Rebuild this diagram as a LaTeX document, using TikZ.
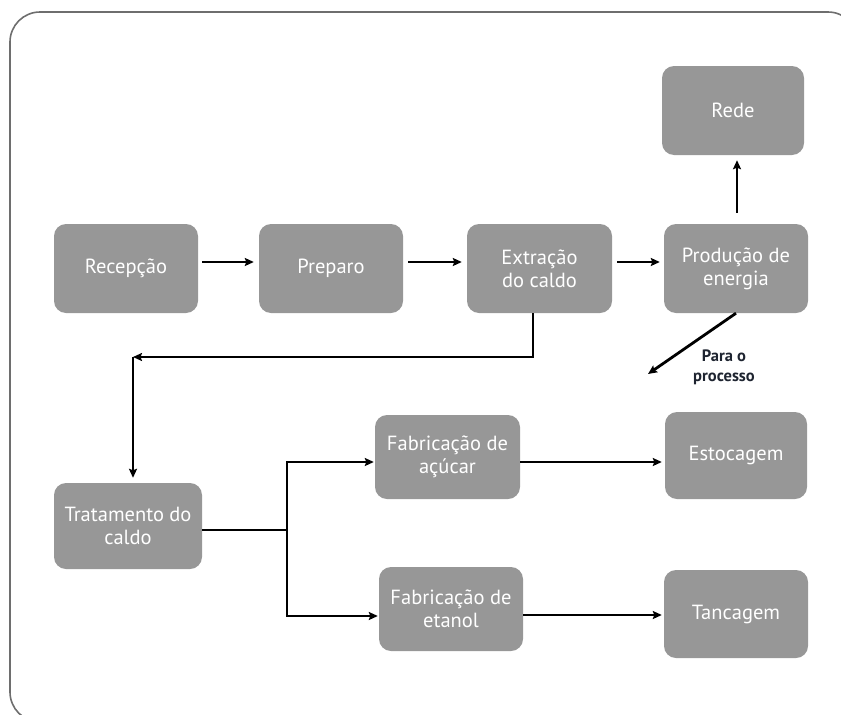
\documentclass[tikz,border=0pt]{standalone}
\usepackage{fontspec}
\setmainfont{PT Sans}
\usetikzlibrary{arrows.meta}
\definecolor{boxgray}{HTML}{979797}
\definecolor{framegray}{HTML}{6E6E6E}
\definecolor{labelink}{HTML}{1E2430}
\tikzset{
  stage/.style={rectangle, rounded corners=12pt, fill=boxgray, text=white,
    align=center, inner sep=0pt, font=\fontsize{20.5}{23}\selectfont},
  flow/.style={line width=2.8pt, draw=black},
  arr/.style={flow, -{Stealth[length=9pt,width=8pt,inset=1.5pt]}},
}
\begin{document}
\begin{tikzpicture}[x=1pt,y=-1pt]
\useasboundingbox (0,0) rectangle (841,715);
% outer frame (runs past the right and bottom edges)
\begin{scope}
\clip (0,0) rectangle (841,715);
\draw[framegray, line width=1.6pt, rounded corners=30pt] (10,12) rectangle (858,722);
\end{scope}

% process stages
\node[stage, minimum width=142pt, minimum height=89pt] (rede)  at (733,110.5) {Rede};
\node[stage, minimum width=144pt, minimum height=89pt] (recep) at (126,268.5) {Recepção};
\node[stage, minimum width=144pt, minimum height=89pt] (prep)  at (331,268.5) {Preparo};
\node[stage, minimum width=145pt, minimum height=89pt] (extr)  at (539.5,268.5) {Extração\\do caldo};
\node[stage, minimum width=144pt, minimum height=89pt] (prod)  at (736,268.5) {Produção de\\energia};
\node[stage, minimum width=148pt, minimum height=86pt] (trat)  at (128,526) {Tratamento do\\caldo};
\node[stage, minimum width=145pt, minimum height=84pt] (acuc)  at (447.5,457) {Fabricação de\\açúcar};
\node[stage, minimum width=144pt, minimum height=84pt] (etan)  at (451,609) {Fabricação de\\etanol};
\node[stage, minimum width=142pt, minimum height=87pt] (estoc) at (736,455.5) {Estocagem};
\node[stage, minimum width=144pt, minimum height=88pt] (tanc)  at (736,614) {Tancagem};

\node[text=labelink, align=center, font=\bfseries\fontsize{16.5}{20}\selectfont] (paraproc) at (724,367) {Para o\\processo};

% junction points
\coordinate (bend) at (133,357);
\coordinate (split) at (287,530);
\coordinate (proc) at (648,374);
\coordinate (a1) at ([yshift=-5pt]acuc.east);
\coordinate (e1) at ([yshift=-6pt]etan.east);

% top row
\draw[arr, shorten <=4pt, shorten >=5pt] ([yshift=6.5pt]recep.east) -- ([yshift=6.5pt]prep.west);
\draw[arr, shorten <=5pt, shorten >=5pt] ([yshift=6.5pt]prep.east) -- ([yshift=6.5pt]extr.west);
\draw[arr, shorten <=5pt, shorten >=4pt] ([yshift=6.5pt]extr.east) -- ([yshift=6.5pt]prod.west);
\draw[arr, shorten <=11pt, shorten >=5pt] ([xshift=1pt]prod.north) -- ([xshift=1pt]prod.north |- rede.south);
\draw[arr] (prod.south) -- (proc);

% down to the juice treatment
\draw[arr] ([xshift=-6.5pt]extr.south) |- (bend);
\draw[arr, shorten >=5pt] (bend) -- (bend |- trat.north);

% split into sugar and ethanol lines
\draw[flow] ([yshift=-4pt]trat.east) -- (split);
\draw[arr, shorten >=1pt] (split) |- ([yshift=-5pt]acuc.west);
\draw[arr, shorten >=1pt] (split) |- ([yshift=-7pt]etan.west);
\draw[arr, shorten >=3pt] (a1) -- (a1 -| estoc.west);
\draw[arr, shorten >=2pt] (e1) -- (e1 -| tanc.west);
\end{tikzpicture}
\end{document}
